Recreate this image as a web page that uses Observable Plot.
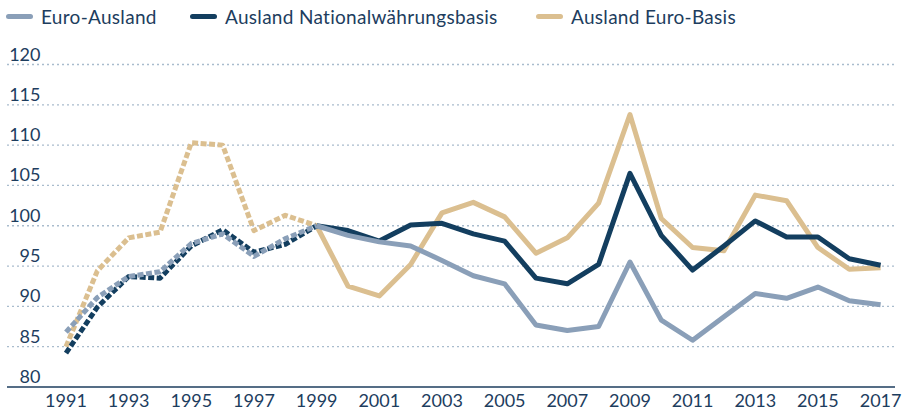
<!DOCTYPE html>
<html>
<head>
<meta charset="utf-8">
<script src="https://cdn.jsdelivr.net/npm/d3@7"></script>
<script src="https://cdn.jsdelivr.net/npm/@observablehq/plot@0.6"></script>
<style>
  html, body { margin: 0; padding: 0; background: #ffffff; }
  body { width: 905px; height: 411px; overflow: hidden; font-family: Lato, "Noto Sans", sans-serif; }
  #legend { position: relative; height: 40px; color: #1d3d5e; font-size: 19px; letter-spacing: 0.3px; }
  .item { position: absolute; top: 4px; display: flex; align-items: center; height: 24px; white-space: nowrap; }
  .sw { width: 27px; height: 5px; border-radius: 3px; margin-right: 8px; }
  #chart svg { display: block; }
</style>
</head>
<body>
<div id="legend"></div>
<div id="chart"></div>
<script>
const years = [1991,1992,1993,1994,1995,1996,1997,1998,1999,2000,2001,2002,2003,2004,2005,2006,2007,2008,2009,2010,2011,2012,2013,2014,2015,2016,2017];
const euroAusland = [86.8,91.1,93.7,94.3,97.8,99.0,96.2,98.4,100,98.8,98.0,97.5,95.7,93.8,92.8,87.7,87.0,87.5,95.5,88.3,85.8,88.7,91.6,91.0,92.4,90.7,90.2];
const auslandNational = [84.2,89.9,93.7,93.5,97.5,99.5,96.7,97.7,100,99.4,98.1,100.1,100.3,99.0,98.1,93.5,92.8,95.2,106.5,98.8,94.5,97.5,100.6,98.6,98.6,95.9,95.1];
const auslandEuroBasis = [85.0,94.4,98.5,99.2,110.3,110.0,99.4,101.3,100,92.5,91.3,95.2,101.6,102.9,101.1,96.6,98.5,102.8,113.8,100.9,97.3,96.9,103.8,103.1,97.3,94.6,94.8];
const seriesNames = ["Euro-Ausland","Ausland Nationalwährungsbasis","Ausland Euro-Basis"];
const seriesColors = ["#8a9fb8","#133e5f","#dbbf90"];
const yTicks = [80,85,90,95,100,105,110,115,120];
const xTicks = [1991,1993,1995,1997,1999,2001,2003,2005,2007,2009,2011,2013,2015,2017];
const breakYear = 1999;

const textColor = "#1d3d5e";
const seriesValues = [euroAusland, auslandNational, auslandEuroBasis];

// legend
const legendX = [6, 190, 536];
const legend = document.getElementById("legend");
seriesNames.forEach((n, i) => {
  const it = document.createElement("div");
  it.className = "item";
  it.style.left = legendX[i] + "px";
  const sw = document.createElement("div");
  sw.className = "sw";
  sw.style.background = seriesColors[i];
  const t = document.createElement("span");
  t.textContent = n;
  it.appendChild(sw); it.appendChild(t);
  legend.appendChild(it);
});

// table
const rows = [];
seriesNames.forEach((name, i) => {
  years.forEach((y, j) => rows.push({series: name, idx: i, year: y, value: seriesValues[i][j]}));
});

const xDomain = [1989.133, 2017.476];
const marks = [
  Plot.ruleY(yTicks.filter(d => d > 80), {stroke: "#a9bccd", strokeWidth: 1.3, strokeDasharray: "2,3"}),
  Plot.ruleY([80], {stroke: textColor, strokeWidth: 1.5}),
  Plot.text(yTicks, {x: () => xDomain[0], y: d => d, text: d => String(d), textAnchor: "end", lineAnchor: "bottom", dx: 33, dy: -4, fill: textColor, fontSize: 18}),
  Plot.axisX(xTicks, {tickSize: 0, tickPadding: 7, tickFormat: d => String(d), fontSize: 18, color: textColor, fill: textColor, label: null})
];
// draw order: tan (bottom), navy, grey (top)
[2, 1, 0].forEach(i => {
  const name = seriesNames[i];
  marks.push(Plot.line(rows.filter(r => r.series === name && r.year <= breakYear), {
    x: "year", y: "value", stroke: seriesColors[i], strokeWidth: 5, strokeDasharray: "6,2.5", strokeLinecap: "butt", strokeLinejoin: "round"
  }));
  marks.push(Plot.line(rows.filter(r => r.series === name && r.year >= breakYear), {
    x: "year", y: "value", stroke: seriesColors[i], strokeWidth: 5, strokeLinejoin: "round", strokeLinecap: "butt"
  }));
});

const chart = Plot.plot({
  width: 905,
  height: 371,
  marginTop: 24,
  marginBottom: 24.5,
  marginLeft: 7,
  marginRight: 10,
  style: {fontFamily: "Lato, 'Noto Sans', sans-serif", background: "#ffffff", overflow: "visible"},
  x: {domain: xDomain, axis: null},
  y: {domain: [80, 120], axis: null},
  marks
});
document.getElementById("chart").appendChild(chart);
</script>
</body>
</html>
